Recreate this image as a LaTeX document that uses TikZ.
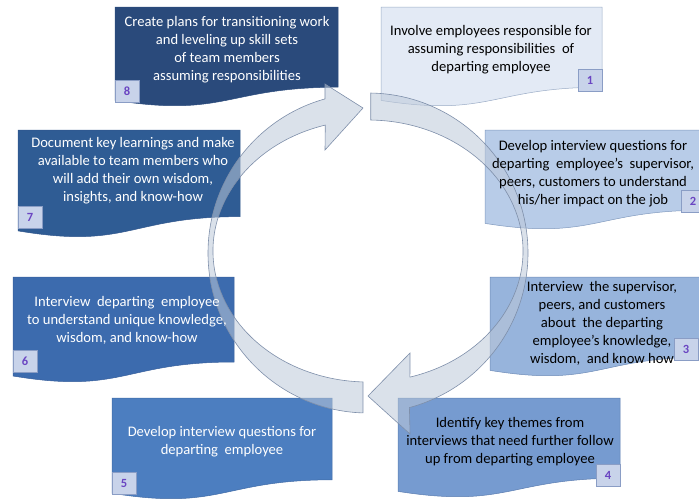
\documentclass[tikz,border=0pt]{standalone}
\usepackage{fontspec}
\setmainfont{Carlito}
\definecolor{c1}{HTML}{E3EAF5}
\definecolor{c2}{HTML}{B8CCE8}
\definecolor{c3}{HTML}{97B4DC}
\definecolor{c4}{HTML}{769BD0}
\definecolor{c5}{HTML}{4C7EC0}
\definecolor{c6}{HTML}{3C6BAE}
\definecolor{c7}{HTML}{2F5C94}
\definecolor{c8}{HTML}{2A4A7B}
\definecolor{edge}{HTML}{2F4E80}
\definecolor{badgefill}{HTML}{C8D3EA}
\definecolor{badgeline}{HTML}{8A9DC5}
\definecolor{numcol}{HTML}{6A45C2}
\definecolor{ringfill}{HTML}{BCC8D8}
\definecolor{ringline}{HTML}{7E8FAA}

% document-shaped box: x0, y0, width, height, fill colour
\newcommand{\docbox}[5]{%
  \path[fill=#5, draw=#5!60!edge, line width=0.5pt]
    (#1,#2) -- ({#1+#3},#2) -- ({#1+#3},{#2+0.802*#4})
    .. controls ({#1+0.5*#3},{#2+0.802*#4}) and ({#1+0.5*#3},{#2+1.1075*#4}) ..
    (#1,{#2+0.934*#4}) -- cycle;}

\begin{document}
\begin{tikzpicture}[x=1pt,y=-1pt,
  badge/.style={draw=badgeline, fill=badgefill, line width=0.5pt,
    minimum width=24pt, minimum height=22pt, inner sep=0pt,
    text=numcol, font=\fontsize{12.5}{12.5}\selectfont\bfseries},
  txt/.style={align=center, inner sep=0pt,
    font=\fontsize{14.6}{18}\selectfont},
  ring/.style={fill=ringfill, fill opacity=0.55, draw=ringline,
    line width=0.6pt, line join=miter}]

\useasboundingbox (0,0) rectangle (699,499);

% step boxes
\docbox{115}{7}{223}{100}{c8}
\docbox{381}{7}{221}{100}{c1}
\docbox{18}{130}{222}{108}{c7}
\docbox{485}{130}{220}{100}{c2}
\docbox{13}{277}{221}{106}{c6}
\docbox{490}{277}{215}{100}{c3}
\docbox{112}{398}{220}{102}{c5}
\docbox{398}{398}{222}{100}{c4}

% number badges
\node[badge] (b1) at (590,80) {1};
\node[badge] (b2) at (693,201) {2};
\node[badge] (b3) at (686,349) {3};
\node[badge] (b4) at (608,475) {4};
\node[badge] (b5) at (124,483) {5};
\node[badge] (b6) at (25,361) {6};
\node[badge] (b7) at (30,217) {7};
\node[badge] (b8) at (127,91) {8};

% right half of the cycle: from the top, down to the bottom
\path[ring] ({368+160*cos(-89)},{253+160*sin(-89)})
  arc[start angle=-89, end angle=75, x radius=160, y radius=160]
  -- (410,434) -- (368,396) -- (410,353)
  -- ({368+155*cos(74.3)},{251+131*sin(74.3)})
  arc[start angle=74.3, end angle=-89, x radius=155, y radius=131] -- cycle;

% left half of the cycle: from the bottom, up to the top
\path[ring] ({368+160*cos(91.8)},{253+160*sin(91.8)})
  arc[start angle=91.8, end angle=254.4, x radius=160, y radius=160]
  -- (325,84) -- (363,108) -- (325,150)
  -- ({368+155*cos(254)},{251+131*sin(254)})
  arc[start angle=254, end angle=91.85, x radius=155, y radius=131] -- cycle;

% step texts
\node[txt, text=white] (t8) at (227,50)
  {Create plans for transitioning work\\and leveling up skill sets\\of team members\\assuming responsibilities};
\node[txt] (t1) at (491,50)
  {Involve employees responsible for\\assuming responsibilities\ \ of\\departing employee};
\node[txt] (t2) at (593,174)
  {Develop interview questions for\\departing\ \ employee’s\ \ supervisor,\\peers, customers to understand\\his/her impact on the job};
\node[txt] (t3) at (602,323)
  {Interview\ \ the supervisor,\\peers, and customers\\about\ \ the departing\\employee’s knowledge,\\wisdom,\ \ and know how};
\node[txt] (t4) at (510,442)
  {Identify key themes from\\interviews that need further follow\\up from departing employee};
\node[txt, text=white] (t5) at (222,442)
  {Develop interview questions for\\departing\ \ employee};
\node[txt, text=white] (t6) at (127,320)
  {Interview\ \ departing\ \ employee\\to understand unique knowledge,\\wisdom, and know-how};
\node[txt, text=white] (t7) at (133,171)
  {Document key learnings and make\\available to team members who\\will add their own wisdom,\\insights, and know-how};
\end{tikzpicture}
\end{document}
